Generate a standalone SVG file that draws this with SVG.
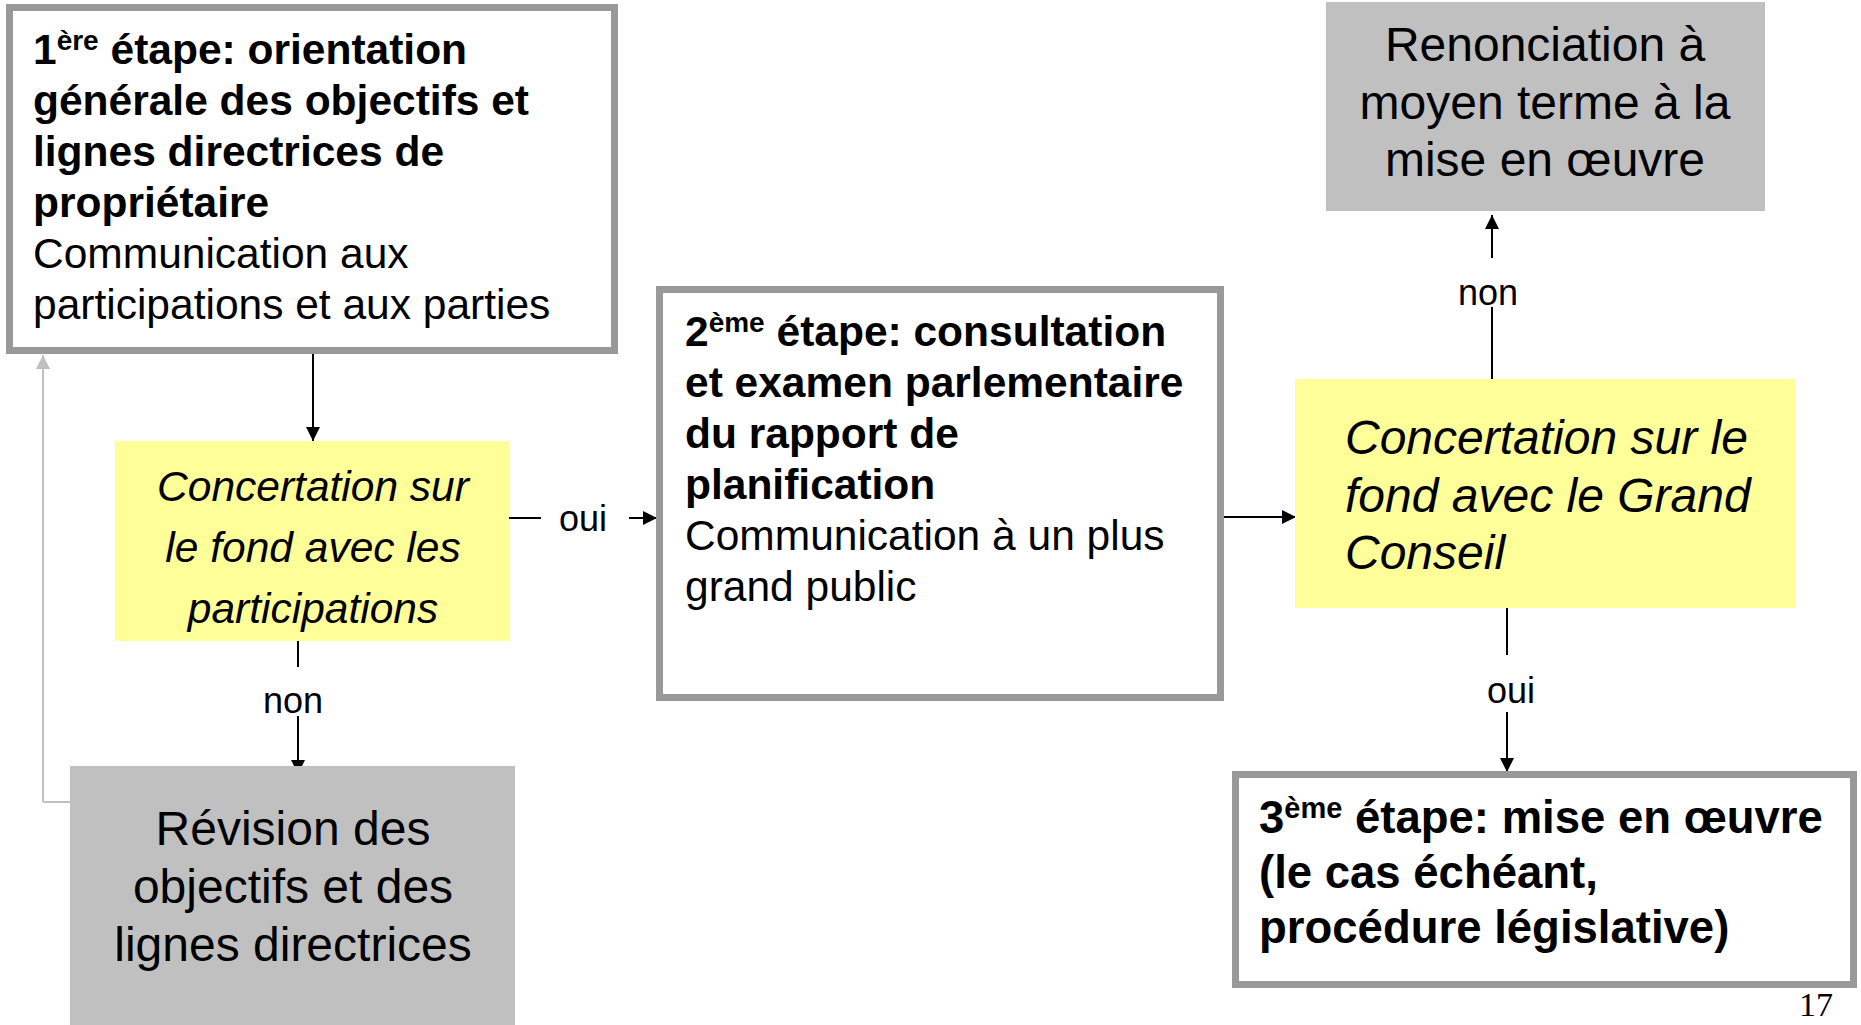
<svg xmlns="http://www.w3.org/2000/svg" width="1861" height="1025" viewBox="0 0 1861 1025">
<style>
text{font-family:"Liberation Sans",Arial,sans-serif;fill:#000}
.step{fill:#fff;stroke:#999;stroke-width:7}
.yel{fill:#ffff99}
.gry{fill:#c0c0c0}
.b{font-weight:bold;font-size:42.5px}
.r{font-size:42.5px}
.yi{font-style:italic;font-size:42.5px}
.yi2{font-style:italic;font-size:48px}
.g{font-size:48px}
.b3{font-weight:bold;font-size:45.5px}
.lbl{font-size:36px}
.sup{font-size:28px}
.pg{font-family:"Liberation Serif","Times New Roman",serif;font-size:34px}
.c{stroke:#000;stroke-width:2;fill:none}
.fb{stroke:#c0c0c0;stroke-width:2;fill:none}
</style>
<defs>
<marker id="ah" viewBox="0 0 10 10" refX="10" refY="5" markerWidth="14" markerHeight="14" markerUnits="userSpaceOnUse" orient="auto">
<path d="M0,0 L10,5 L0,10 Z" fill="#000"/>
</marker>
<marker id="ahg" viewBox="0 0 10 10" refX="10" refY="5" markerWidth="14" markerHeight="14" markerUnits="userSpaceOnUse" orient="auto">
<path d="M0,0 L10,5 L0,10 Z" fill="#c0c0c0"/>
</marker>
</defs>

<g id="connectors">
<line class="fb" x1="70" y1="802" x2="43" y2="802"/>
<line class="fb" x1="43" y1="802" x2="43" y2="355" marker-end="url(#ahg)"/>
<line class="c" x1="313" y1="354" x2="313" y2="441" marker-end="url(#ah)"/>
<line class="c" x1="509" y1="518" x2="541" y2="518"/>
<line class="c" x1="629" y1="518" x2="657" y2="518" marker-end="url(#ah)"/>
<line class="c" x1="298" y1="641" x2="298" y2="667"/>
<line class="c" x1="298" y1="716" x2="298" y2="774" marker-end="url(#ah)"/>
<line class="c" x1="1221" y1="517" x2="1296" y2="517" marker-end="url(#ah)"/>
<line class="c" x1="1492" y1="380" x2="1492" y2="307"/>
<line class="c" x1="1492" y1="258" x2="1492" y2="215" marker-end="url(#ah)"/>
<line class="c" x1="1507" y1="608" x2="1507" y2="655"/>
<line class="c" x1="1507" y1="712" x2="1507" y2="772" marker-end="url(#ah)"/>
<text class="lbl" x="583" y="531" text-anchor="middle">oui</text>
<text class="lbl" x="293" y="713" text-anchor="middle">non</text>
<text class="lbl" x="1488" y="305" text-anchor="middle">non</text>
<text class="lbl" x="1511" y="703" text-anchor="middle">oui</text>
</g>

<g id="step1">
<rect class="step" x="9.5" y="7.5" width="605" height="343"/>
<text class="b" x="33" y="64"><tspan>1</tspan><tspan class="sup" dy="-14">ère</tspan><tspan dy="14"> étape: orientation</tspan></text>
<text class="b" x="33" y="115">générale des objectifs et</text>
<text class="b" x="33" y="166">lignes directrices de</text>
<text class="b" x="33" y="217">propriétaire</text>
<text class="r" x="33" y="268">Communication aux</text>
<text class="r" x="33" y="319">participations et aux parties</text>
</g>

<g id="concert1">
<rect class="yel" x="115" y="441" width="394" height="200"/>
<text class="yi" x="313" y="501" text-anchor="middle">Concertation sur</text>
<text class="yi" x="313" y="562" text-anchor="middle">le fond avec les</text>
<text class="yi" x="313" y="623" text-anchor="middle">participations</text>
</g>

<g id="revision">
<rect class="gry" x="70" y="766" width="445" height="259"/>
<text class="g" x="293" y="845" text-anchor="middle">Révision des</text>
<text class="g" x="293" y="903" text-anchor="middle">objectifs et des</text>
<text class="g" x="293" y="961" text-anchor="middle">lignes directrices</text>
</g>

<g id="step2">
<rect class="step" x="659.5" y="289.5" width="561" height="408"/>
<text class="b" x="685" y="346"><tspan>2</tspan><tspan class="sup" dy="-14">ème</tspan><tspan dy="14"> étape: consultation</tspan></text>
<text class="b" x="685" y="397">et examen parlementaire</text>
<text class="b" x="685" y="448">du rapport de</text>
<text class="b" x="685" y="499">planification</text>
<text class="r" x="685" y="550">Communication à un plus</text>
<text class="r" x="685" y="601">grand public</text>
</g>

<g id="concert2">
<rect class="yel" x="1295" y="379" width="500" height="229"/>
<text class="yi2" x="1345" y="454">Concertation sur le</text>
<text class="yi2" x="1345" y="512">fond avec le Grand</text>
<text class="yi2" x="1345" y="569">Conseil</text>
</g>

<g id="renonciation">
<rect class="gry" x="1326" y="2" width="439" height="209"/>
<text class="g" x="1545" y="61" text-anchor="middle">Renonciation à</text>
<text class="g" x="1545" y="119" text-anchor="middle">moyen terme à la</text>
<text class="g" x="1545" y="176" text-anchor="middle">mise en œuvre</text>
</g>

<g id="step3">
<rect class="step" x="1235.5" y="774.5" width="618" height="210"/>
<text class="b3" x="1259" y="833"><tspan>3</tspan><tspan class="sup" style="font-size:29px" dy="-15">ème</tspan><tspan dy="15"> étape: mise en œuvre</tspan></text>
<text class="b3" x="1259" y="888">(le cas échéant,</text>
<text class="b3" x="1259" y="943">procédure législative)</text>
</g>

<text class="pg" x="1816" y="1016" text-anchor="middle">17</text>
</svg>
